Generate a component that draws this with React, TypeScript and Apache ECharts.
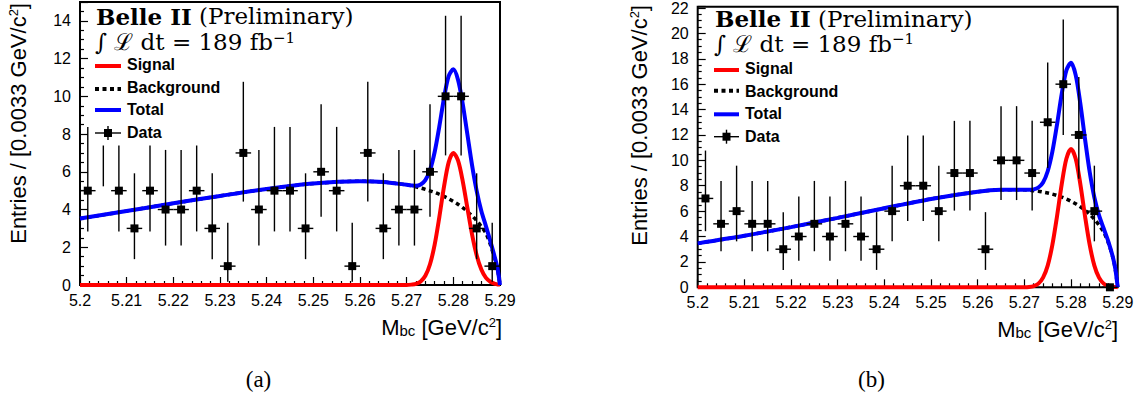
import React, { useEffect, useRef } from 'react';
import * as echarts from 'echarts';

// ---- histogram binning ----
const X_MIN = 5.2;
const X_MAX = 5.29;
const N_BINS = 27;
const BIN_W = (X_MAX - X_MIN) / N_BINS;

// ---- data counts per bin (a) and (b) ----
const countsA = [5, 8, 5, 3, 5, 4, 4, 5, 3, 1, 7, 4, 5, 5, 3, 6, 5, 1, 7, 3, 4, 4, 6, 10, 10, 3, 1];
const countsB = [7, 5, 6, 5, 5, 3, 4, 5, 4, 5, 4, 3, 6, 8, 8, 6, 9, 9, 3, 10, 10, 9, 13, 16, 12, 6, 0];

// Poisson (asymmetric) error bars
const errLow: Record<number, number> = { 0: 0, 1: 0.83, 2: 1.29, 3: 1.63, 4: 1.91, 5: 2.16, 6: 2.38, 7: 2.58, 8: 2.77, 9: 2.96, 10: 3.13, 12: 3.45, 13: 3.6, 16: 4.0 };
const errHigh: Record<number, number> = { 0: 0, 1: 2.3, 2: 2.64, 3: 2.92, 4: 3.16, 5: 3.38, 6: 3.58, 7: 3.77, 8: 3.95, 9: 4.11, 10: 4.27, 12: 4.57, 13: 4.71, 16: 5.1 };

// ---- fitted curves ----
const curveX = [5.2, 5.21, 5.22, 5.23, 5.24, 5.25, 5.26, 5.265, 5.27, 5.271, 5.272, 5.273, 5.274, 5.275, 5.276, 5.277, 5.278, 5.279, 5.28, 5.281, 5.282, 5.283, 5.284, 5.285, 5.286, 5.287, 5.288, 5.289, 5.2895, 5.29];

const bgA = [3.52, 3.92, 4.33, 4.72, 5.09, 5.38, 5.5, 5.46, 5.31, 5.26, 5.2, 5.14, 5.07, 4.99, 4.91, 4.81, 4.7, 4.57, 4.43, 4.28, 4.1, 3.9, 3.67, 3.41, 3.1, 2.73, 2.1, 1.3, 0.8, 0];
const sigA = [0, 0, 0, 0, 0, 0, 0, 0, 0, 0.02, 0.06, 0.19, 0.49, 1.1, 2.14, 3.6, 5.21, 6.5, 7.0, 6.6, 5.52, 4.1, 2.7, 1.58, 0.82, 0.38, 0.16, 0.06, 0.03, 0.02];
const totA = [3.52, 3.92, 4.33, 4.72, 5.09, 5.38, 5.5, 5.46, 5.31, 5.28, 5.26, 5.33, 5.56, 6.09, 7.05, 8.41, 9.91, 11.07, 11.43, 10.88, 9.62, 8.0, 6.37, 4.99, 3.92, 3.11, 2.26, 1.36, 0.83, 0];

const bgB = [3.46, 4.06, 4.74, 5.47, 6.23, 6.96, 7.53, 7.68, 7.68, 7.65, 7.61, 7.57, 7.5, 7.43, 7.34, 7.23, 7.11, 6.96, 6.78, 6.58, 6.34, 6.07, 5.74, 5.36, 4.9, 4.34, 3.5, 2.3, 1.4, 0];
const sigB = [0, 0, 0, 0, 0, 0, 0, 0, 0.01, 0.03, 0.1, 0.29, 0.76, 1.71, 3.34, 5.6, 8.11, 10.13, 10.9, 10.13, 8.11, 5.6, 3.34, 1.71, 0.76, 0.29, 0.1, 0.03, 0.02, 0.01];
const totB = [3.46, 4.06, 4.74, 5.47, 6.23, 6.96, 7.53, 7.68, 7.69, 7.68, 7.71, 7.86, 8.26, 9.14, 10.68, 12.83, 15.22, 17.09, 17.68, 16.71, 14.45, 11.67, 9.08, 7.07, 5.66, 4.63, 3.6, 2.33, 1.42, 0];

// ---- axes ----
const yMaxA = 15;
const yMaxB = 22.1;
const yInterval = 2;
const xInterval = 0.01;

const legendLabels = ['Signal', 'Background', 'Total', 'Data'];

const SANS = 'Liberation Sans';
const SERIF = 'DejaVu Serif';

const histData = (counts: number[]) =>
  counts.map((n, i) => [X_MIN + (i + 0.5) * BIN_W, n, n - errLow[n], n + errHigh[n]]);

const renderPoint = (params: any, api: any) => {
  const x = api.value(0);
  const y = api.value(1);
  const lo = api.value(2);
  const hi = api.value(3);
  const c = api.coord([x, y]);
  const l = api.coord([x - BIN_W / 2, y]);
  const r = api.coord([x + BIN_W / 2, y]);
  const b = api.coord([x, lo]);
  const t = api.coord([x, hi]);
  const st = { stroke: '#000', lineWidth: 1.4 };
  const children: any[] = [
    { type: 'line', shape: { x1: l[0], y1: c[1], x2: r[0], y2: c[1] }, style: st },
  ];
  if (hi > lo) {
    children.push({ type: 'line', shape: { x1: c[0], y1: b[1], x2: c[0], y2: t[1] }, style: st });
  }
  children.push({ type: 'rect', shape: { x: c[0] - 4, y: c[1] - 4, width: 8, height: 8 }, style: { fill: '#000' } });
  return { type: 'group', children };
};

const xAxis = (gridIndex: number) => ({
  type: 'value',
  gridIndex,
  min: X_MIN,
  max: X_MAX,
  interval: xInterval,
  axisLine: { show: false },
  axisTick: { show: true, inside: true, length: 8, lineStyle: { color: '#000', width: 1.2 } },
  minorTick: { show: true, splitNumber: 5, length: 4, lineStyle: { color: '#000', width: 1.2 } },
  splitLine: { show: false },
  minorSplitLine: { show: false },
  axisLabel: {
    color: '#000', fontSize: 16, fontFamily: SANS, margin: 7,
    showMinLabel: true, showMaxLabel: true,
    formatter: (v: number) => String(+v.toFixed(3)),
  },
});

const yAxis = (gridIndex: number, max: number) => ({
  type: 'value',
  gridIndex,
  min: 0,
  max,
  interval: yInterval,
  axisLine: { show: false },
  axisTick: { show: true, inside: true, length: 8, lineStyle: { color: '#000', width: 1.2 } },
  minorTick: { show: true, splitNumber: 4, length: 4, lineStyle: { color: '#000', width: 1.2 } },
  splitLine: { show: false },
  minorSplitLine: { show: false },
  axisLabel: {
    color: '#000', fontSize: 16, fontFamily: SANS, margin: 9,
    showMinLabel: true, showMaxLabel: true,
    formatter: (v: number) => {
      const r = Math.round(v);
      return Math.abs(v - r) < 1e-6 && r % 2 === 0 ? String(r) : '';
    },
  },
});

const curveSeries = (idx: number, ys: number[], color: string, dashed: boolean, z: number) => ({
  type: 'line',
  xAxisIndex: idx,
  yAxisIndex: idx,
  data: curveX.map((x, i) => [x, ys[i]]),
  symbol: 'none',
  showSymbol: false,
  smooth: 0.3,
  clip: false,
  silent: true,
  z,
  lineStyle: { color, width: dashed ? 3.5 : 4, type: dashed ? [4, 3.5] : 'solid' },
});

const titleTexts = (x0: number, yTitle: number, yLumi: number) => [
  {
    type: 'text', z: 120, x: x0, y: yTitle,
    style: {
      text: '{b|Belle II}{r| (Preliminary)}',
      align: 'left', verticalAlign: 'middle',
      rich: {
        b: { fontFamily: SERIF, fontWeight: 'bold', fontSize: 23, lineHeight: 23, fill: '#000', verticalAlign: 'middle' },
        r: { fontFamily: SERIF, fontSize: 23, lineHeight: 23, fill: '#000', verticalAlign: 'middle' },
      },
    },
  },
  {
    type: 'text', z: 120, x: x0 - 1, y: yLumi,
    style: {
      text: '{r|\u222B \u2112 dt = 189 fb}{s|\u22121}',
      align: 'left', verticalAlign: 'middle',
      rich: {
        r: { fontFamily: SERIF, fontSize: 23, lineHeight: 24, fill: '#000', verticalAlign: 'middle' },
        s: { fontFamily: SERIF, fontSize: 15, lineHeight: 15, fill: '#000', verticalAlign: 'top' },
      },
    },
  },
];

const legendBlock = (symX0: number, symX1: number, textX: number, symYs: number[], textYs: number[], box: number[]) => {
  const els: any[] = [
    { type: 'rect', z: 100, shape: { x: box[0], y: box[1], width: box[2], height: box[3] }, style: { fill: '#fff' } },
    { type: 'line', z: 110, shape: { x1: symX0, y1: symYs[0], x2: symX1, y2: symYs[0] }, style: { stroke: '#ff0000', lineWidth: 4 } },
    { type: 'line', z: 110, shape: { x1: symX0, y1: symYs[1], x2: symX1, y2: symYs[1] }, style: { stroke: '#000', lineWidth: 4, lineDash: [4, 3.5] } },
    { type: 'line', z: 110, shape: { x1: symX0, y1: symYs[2], x2: symX1, y2: symYs[2] }, style: { stroke: '#0000ff', lineWidth: 4 } },
    { type: 'line', z: 110, shape: { x1: symX0, y1: symYs[3], x2: symX1, y2: symYs[3] }, style: { stroke: '#000', lineWidth: 1.4 } },
    { type: 'line', z: 110, shape: { x1: (symX0 + symX1) / 2, y1: symYs[3] - 7, x2: (symX0 + symX1) / 2, y2: symYs[3] + 7 }, style: { stroke: '#000', lineWidth: 1.4 } },
    { type: 'rect', z: 110, shape: { x: (symX0 + symX1) / 2 - 4, y: symYs[3] - 4, width: 8, height: 8 }, style: { fill: '#000' } },
  ];
  legendLabels.forEach((t, i) => {
    els.push({
      type: 'text', z: 110, x: textX, y: textYs[i],
      style: { text: t, fontFamily: SANS, fontWeight: 'bold', fontSize: 16, fill: '#000', align: 'left', verticalAlign: 'middle' },
    });
  });
  return els;
};

const yTitle = (x: number, y: number) => ({
  type: 'text', z: 120, x, y, rotation: Math.PI / 2,
  style: {
    text: '{a|Entries / [0.0033 GeV/c}{s|2}{a|]}',
    align: 'right', verticalAlign: 'middle',
    rich: {
      a: { fontFamily: SANS, fontSize: 22, lineHeight: 22, fill: '#000', verticalAlign: 'middle' },
      s: { fontFamily: SANS, fontSize: 13, lineHeight: 13, fill: '#000', verticalAlign: 'top' },
    },
  },
});

const xTitle = (x: number, y: number) => ({
  type: 'text', z: 120, x, y,
  style: {
    text: '{a|M}{b|bc}{a| [GeV/c}{s|2}{a|]}',
    align: 'right', verticalAlign: 'middle',
    rich: {
      a: { fontFamily: SANS, fontSize: 22, lineHeight: 22, fill: '#000', verticalAlign: 'middle' },
      b: { fontFamily: SANS, fontSize: 15, lineHeight: 14, fill: '#000', verticalAlign: 'bottom' },
      s: { fontFamily: SANS, fontSize: 13, lineHeight: 13, fill: '#000', verticalAlign: 'top' },
    },
  },
});

const caption = (x: number, t: string) => ({
  type: 'text', z: 120, x, y: 379,
  style: { text: t, fontFamily: 'Liberation Serif', fontSize: 23, fill: '#000', align: 'center', verticalAlign: 'middle' },
});

export default function App() {
  const ref = useRef<HTMLDivElement>(null);
  useEffect(() => {
    if (!ref.current) return;
    const chart = echarts.init(ref.current, undefined, { renderer: 'svg' });
    const option: any = {
      animation: false,
      backgroundColor: '#fff',
      grid: [
        { left: 80, top: 2, width: 420, height: 283, show: true, borderColor: '#000', borderWidth: 2, backgroundColor: 'transparent' },
        { left: 697.7, top: 4.6, width: 420, height: 282.7, show: true, borderColor: '#000', borderWidth: 2, backgroundColor: 'transparent' },
      ],
      xAxis: [xAxis(0), xAxis(1)],
      yAxis: [yAxis(0, yMaxA), yAxis(1, yMaxB)],
      series: [
        curveSeries(0, bgA, '#000', true, 2),
        curveSeries(0, sigA, '#ff0000', false, 3),
        curveSeries(0, totA, '#0000ff', false, 4),
        { type: 'custom', xAxisIndex: 0, yAxisIndex: 0, data: histData(countsA), renderItem: renderPoint, clip: false, z: 5, encode: { x: 0, y: 1 } },
        curveSeries(1, bgB, '#000', true, 2),
        curveSeries(1, sigB, '#ff0000', false, 3),
        curveSeries(1, totB, '#0000ff', false, 4),
        { type: 'custom', xAxisIndex: 1, yAxisIndex: 1, data: histData(countsB), renderItem: renderPoint, clip: false, z: 5, encode: { x: 0, y: 1 } },
      ],
      graphic: {
        elements: [
          ...legendBlock(95, 121, 127, [66, 89, 110, 133], [64.5, 87.2, 109.5, 132.5], [92, 56, 140, 89.5]),
          ...legendBlock(714, 739, 745, [70, 90.7, 114.3, 136.7], [68.5, 91.2, 113.8, 136.2], [711, 58, 140, 88]),
          ...titleTexts(96, 16, 42),
          ...titleTexts(715, 18.7, 43.7),
          yTitle(18.4, 3),
          yTitle(639, 5),
          xTitle(502, 327.4),
          xTitle(1118, 329.1),
          caption(258.5, '(a)'),
          caption(871.5, '(b)'),
        ],
      },
    };
    chart.setOption(option);
    return () => chart.dispose();
  }, []);
  return (
    <div
      ref={ref}
      style={{ position: 'fixed', left: 0, top: 0, width: 1142, height: 398, background: '#fff' }}
    />
  );
}
